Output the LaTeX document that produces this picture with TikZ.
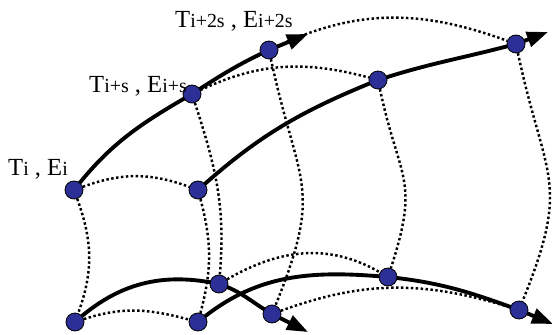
\documentclass[tikz,border=0pt]{standalone}
\usepackage{fontspec}
\setmainfont{Liberation Serif}
\usetikzlibrary{arrows.meta,backgrounds}
\definecolor{dotblue}{RGB}{44,48,150}
\newcommand{\subtxt}[1]{{\fontsize{17}{17}\selectfont #1}}

\begin{document}
\begin{tikzpicture}[x=0.03cm,y=0.03cm,
    state/.style={circle, draw=black, line width=0.7pt, fill=dotblue, inner sep=0pt, minimum size=0.54cm},
    traj/.style={line width=3.3pt, -{Triangle[length=18pt,width=13pt]}},
    link/.style={line width=2.1pt, dash pattern=on 2.1pt off 2.1pt},
    lab/.style={font=\fontsize{21}{21}\selectfont, anchor=base west, inner sep=0pt}]
  \useasboundingbox (0,0) rectangle (552,335);

  % states along the four trajectories
  \node[state] (a1) at (74,145) {};
  \node[state] (a2) at (192,241) {};
  \node[state] (a3) at (269,285) {};
  \node[state] (b1) at (198,145) {};
  \node[state] (b2) at (378,255) {};
  \node[state] (b3) at (516,291) {};
  \node[state] (c1) at (75,13) {};
  \node[state] (c2) at (219,51) {};
  \node[state] (c3) at (272,21) {};
  \node[state] (d1) at (198,13) {};
  \node[state] (d2) at (388,58) {};
  \node[state] (d3) at (519,25) {};
  \coordinate (atip) at (308,301);
  \coordinate (btip) at (548,303);
  \coordinate (ctip) at (308,3);
  \coordinate (dtip) at (553,11);

  \node[lab] (ti) at (8,159) {T\subtxt{i} , E\subtxt{i}};
  \node[lab] (tis) at (89,242) {T\subtxt{i+s} , E\subtxt{i+s}};
  \node[lab] (ti2s) at (175,307) {T\subtxt{i+2s} , E\subtxt{i+2s}};

  \begin{scope}[on background layer]
    % trajectories
    \draw[traj] (a1.center) to[out=52,in=210] (a2.center) to[out=33,in=205] (a3.center) -- (atip);
    \draw[traj] (b1.center) to[out=42,in=202] (b2.center) to[out=18,in=195] (b3.center) -- (btip);
    \draw[traj] (c1.center) to[out=42,in=168] (c2.center) to[out=-18,in=150] (c3.center) -- (ctip);
    \draw[traj] (d1.center) to[out=40,in=175] (d2.center) to[out=-6,in=160] (d3.center) -- (dtip);
    % links between neighbouring states
    \foreach \a/\b/\o/\i in {a1/b1/20/160, a2/b2/25/165, a3/b3/25/160,
                             c1/d1/18/165, c2/d2/30/150, c3/d3/20/163}
      \draw[link] (\a) to[out=\o,in=\i] (\b);
    \foreach \a/\b/\o/\i in {a1/c1/-70/70, b1/d1/-75/75, a2/c2/-72/85}
      \draw[link] (\a) to[out=\o,in=\i] (\b);
    \foreach \a/\b/\o/\i in {a3/c3/-78/68, b2/d2/-78/72, b3/d3/-78/68}
      \draw[link] (\a) to[out=\o,in=\i,looseness=1.35] (\b);
  \end{scope}
\end{tikzpicture}
\end{document}
